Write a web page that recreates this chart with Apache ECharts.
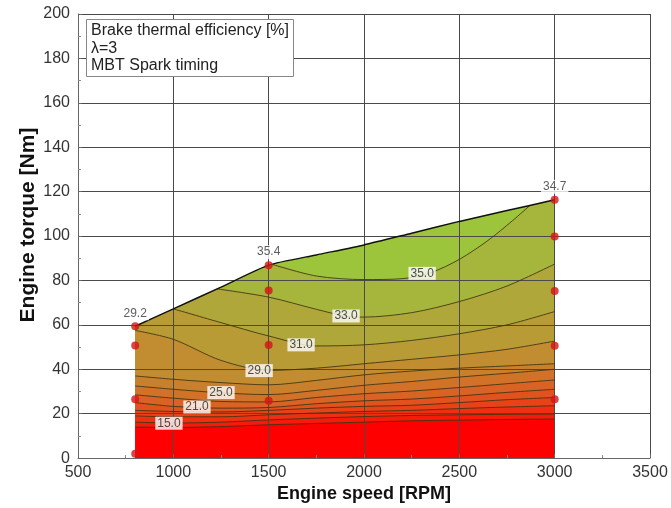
<!DOCTYPE html>
<html>
<head>
<meta charset="utf-8">
<script src="https://cdn.jsdelivr.net/npm/echarts@6/dist/echarts.min.js"></script>
<style>
html, body { margin: 0; padding: 0; background: #fff; }
#chart { width: 671px; height: 508px; }
</style>
</head>
<body>
<div id="chart"></div>
<script>
// axis ticks
const speedTicks = [500, 1000, 1500, 2000, 2500, 3000, 3500];
const torqueTicks = [0, 20, 40, 60, 80, 100, 120, 140, 160, 180, 200];

// upper limit of the measured area (full load line)
const fullLoad = [[800, 59.4], [1000, 67.2], [1250, 77], [1500, 86.9], [1750, 91.5], [2000, 96], [2250, 101.3], [2500, 106.6], [2750, 111.5], [3000, 116.3]];

// measured operating points
const pointSpeed = [800, 800, 800, 800, 1500, 1500, 1500, 1500, 3000, 3000, 3000, 3000, 3000];
const pointTorque = [2, 26.5, 50.7, 59.4, 25.8, 50.9, 75.5, 86.9, 26.5, 50.6, 75.3, 99.8, 116.3];

// efficiency at the full load corners
const cornerSpeed = [800, 1500, 3000];
const cornerTorque = [59.4, 86.9, 116.3];
const cornerEff = [29.2, 35.4, 34.7];

// iso-efficiency lines, torque at these speeds
const isoSpeed = [800, 1000, 1250, 1500, 1750, 2000, 2250, 2500, 2750, 3000];
const iso13 = [14.0, 13.8, 14.2, 15.0, 15.6, 16.2, 16.8, 17.1, 17.4, 17.6];
const iso15 = [16.2, 15.8, 16.2, 17.2, 18.0, 18.7, 19.2, 19.5, 19.7, 19.8];
const iso17 = [19.0, 18.6, 18.6, 19.5, 20.3, 21.0, 21.5, 22.3, 23.0, 23.6];
const iso19 = [21.5, 21.0, 20.8, 21.5, 22.5, 23.3, 23.8, 25.0, 26.3, 27.3];
const iso21 = [25.0, 23.3, 22.5, 22.8, 24.5, 25.8, 26.6, 28.0, 29.6, 31.0];
const iso23 = [28.5, 27.0, 25.5, 25.3, 27.3, 29.0, 30.2, 31.8, 33.5, 35.2];
const iso25 = [32.5, 31.0, 29.4, 28.6, 30.5, 32.8, 34.5, 36.5, 38.2, 40.0];
const iso27 = [37.0, 35.5, 34.0, 33.0, 35.0, 37.5, 39.2, 40.5, 41.5, 42.5];
const iso29 = [57.5, 53.5, 44.0, 39.5, 40.5, 42.5, 44.5, 46.5, 49.0, 52.7];
// lines that start on the full load line
const iso31 = [[1000, 67.2], [1250, 61], [1500, 55], [1750, 50.5], [2000, 51], [2250, 53], [2500, 56], [2750, 60], [3000, 66]];
const iso33 = [[1230, 76.2], [1500, 72.5], [1750, 67], [1900, 64], [2000, 63.5], [2250, 65.5], [2500, 70.5], [2750, 77.5], [3000, 87.4]];
const iso35 = [[1520, 87.2], [1750, 82], [2000, 80.4], [2200, 80.8], [2350, 83.5], [2500, 89.5], [2650, 98], [2780, 107], [2870, 113.8]];

// contour label positions
const tagSpeed = [977, 1124, 1250, 1450, 1670, 1906, 2305];
const tagTorque = [15.7, 23, 29.5, 39.4, 51, 64, 83.2];
const tagText = ['15.0', '21.0', '25.0', '29.0', '31.0', '33.0', '35.0'];

const font = 'Liberation Sans, Arial, sans-serif';

function pairs(ys) {
    return isoSpeed.map((x, i) => [x, ys[i]]);
}
// region under an iso line, closed along the full load line
function underIso(line) {
    const x0 = line[0][0], x1 = line[line.length - 1][0];
    return fullLoad.filter(p => p[0] < x0).concat(line, fullLoad.filter(p => p[0] > x1));
}

const levels = [
    { line: iso35, fill: '#a6b53b' },
    { line: iso33, fill: '#afa73a' },
    { line: iso31, fill: '#b89b35' },
    { line: pairs(iso29), fill: '#c18d30' },
    { line: pairs(iso27), fill: '#c9802c' },
    { line: pairs(iso25), fill: '#d17228' },
    { line: pairs(iso23), fill: '#d96324' },
    { line: pairs(iso21), fill: '#e1521e' },
    { line: pairs(iso19), fill: '#e94118' },
    { line: pairs(iso17), fill: '#f02f12' },
    { line: pairs(iso15), fill: '#f7190a' },
    { line: pairs(iso13), fill: '#ff0000' }
];

const series = [];
series.push({
    type: 'line', data: fullLoad, smooth: 0.2, symbol: 'none', z: 1, silent: true,
    lineStyle: { width: 0 }, areaStyle: { color: '#9cc53c', opacity: 1 }
});
levels.forEach(lv => {
    series.push({
        type: 'line', data: underIso(lv.line), smooth: 0.3, symbol: 'none', z: 1, silent: true,
        lineStyle: { width: 0 }, areaStyle: { color: lv.fill, opacity: 1 }
    });
});
// white mask above the full load line hides smoothing overshoot
series.push({
    type: 'line', data: fullLoad, smooth: 0.2, symbol: 'none', z: 1, silent: true,
    lineStyle: { width: 0 }, areaStyle: { color: '#fff', opacity: 1, origin: 'end' }
});
levels.forEach(lv => {
    series.push({
        type: 'line', data: lv.line, smooth: 0.3, symbol: 'none', z: 3, silent: true,
        lineStyle: { color: '#3b3412', width: 1, opacity: 0.85 }
    });
});
series.push({
    type: 'line', data: fullLoad, smooth: 0.2, symbol: 'none', z: 4,
    lineStyle: { color: '#111', width: 1.5 }
});
series.push({
    type: 'scatter', z: 5, symbolSize: 8,
    itemStyle: { color: '#d41414' },
    data: pointSpeed.map((x, i) => [x, pointTorque[i]])
});
series.push({
    type: 'scatter', z: 6, symbolSize: 0,
    data: cornerSpeed.map((x, i) => [x, cornerTorque[i], cornerEff[i]]),
    label: {
        show: true, position: 'top', distance: 6,
        formatter: p => p.value[2].toFixed(1),
        fontFamily: font, fontSize: 12, color: '#333',
        backgroundColor: '#fff', padding: [1, 2]
    }
});
series.push({
    type: 'scatter', z: 6, symbolSize: 0,
    data: tagSpeed.map((x, i) => [x, tagTorque[i], tagText[i]]),
    label: {
        show: true, position: 'inside',
        formatter: p => p.value[2],
        fontFamily: font, fontSize: 12, color: '#222',
        backgroundColor: '#fff', padding: [1, 2, 0, 2]
    }
});

const chart = echarts.init(document.getElementById('chart'));
chart.setOption({
    animation: false,
    backgroundColor: '#fff',
    title: {
        text: 'Brake thermal efficiency [%]\nλ=3\nMBT Spark timing',
        left: 86, top: 19,
        padding: [3, 5, 2, 5],
        borderWidth: 1, borderColor: '#888', backgroundColor: '#fff',
        textStyle: { fontFamily: font, fontSize: 16, fontWeight: 'normal', color: '#222', lineHeight: 17.5 }
    },
    graphic: [{
        type: 'text', x: 28, y: 225, rotation: Math.PI / 2,
        style: {
            text: 'Engine torque [Nm]', fontFamily: font, fontSize: 21, fontWeight: 'bold',
            fill: '#111', align: 'center', verticalAlign: 'middle'
        }
    }],
    grid: { left: 78, right: 21, top: 14, bottom: 47 },
    xAxis: {
        type: 'value', min: speedTicks[0], max: speedTicks[speedTicks.length - 1], interval: 500, z: 2,
        name: 'Engine speed [RPM]', nameLocation: 'middle', nameGap: 23,
        nameTextStyle: { fontFamily: font, fontSize: 18, fontWeight: 'bold', color: '#111' },
        axisLine: { lineStyle: { color: '#666' } },
        axisTick: { inside: true, length: 4, lineStyle: { color: '#666' } },
        minorTick: { show: true, splitNumber: 2, length: 3, lineStyle: { color: '#888' } },
        splitLine: { show: true, lineStyle: { color: '#4a4a4a', width: 1 } },
        axisLabel: { fontFamily: font, fontSize: 16, color: '#333', margin: 6, formatter: v => String(v) }
    },
    yAxis: {
        type: 'value', min: torqueTicks[0], max: torqueTicks[torqueTicks.length - 1], interval: 20, z: 2,
        axisLine: { show: true, lineStyle: { color: '#666' } },
        axisTick: { show: true, inside: true, length: 4, lineStyle: { color: '#666' } },
        minorTick: { show: true, splitNumber: 2, length: 3, lineStyle: { color: '#888' } },
        splitLine: { show: true, lineStyle: { color: '#4a4a4a', width: 1 } },
        axisLabel: { fontFamily: font, fontSize: 16, color: '#333', margin: 8, formatter: v => String(v) }
    },
    series: series
});
</script>
</body>
</html>
